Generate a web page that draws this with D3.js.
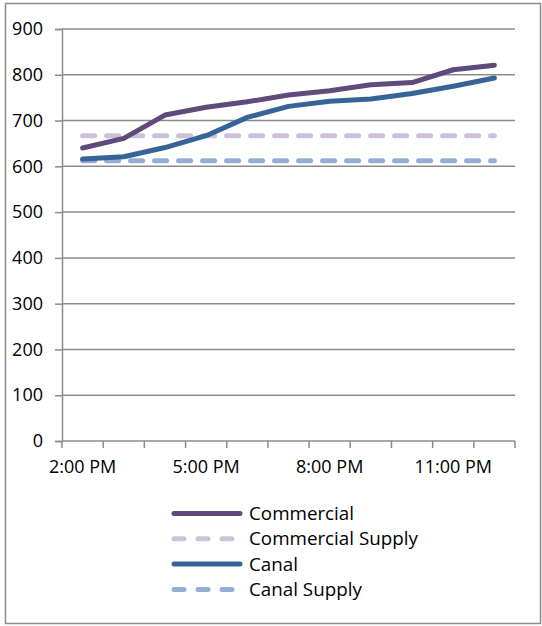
<!DOCTYPE html>
<html>
<head>
<meta charset="utf-8">
<script src="https://cdn.jsdelivr.net/npm/d3@7"></script>
<style>
  html, body { margin: 0; padding: 0; background: #fff; }
  svg { display: block; }
  text { font-family: "Open Sans", "DejaVu Sans", sans-serif; fill: #000; }
</style>
</head>
<body>
<svg id="chart" width="542" height="626"></svg>
<script>
// Hourly categories, evening load versus supply
const hours = ["2:00 PM", "3:00 PM", "4:00 PM", "5:00 PM", "6:00 PM", "7:00 PM",
               "8:00 PM", "9:00 PM", "10:00 PM", "11:00 PM", "12:00 AM"];
const shownHours = ["2:00 PM", "5:00 PM", "8:00 PM", "11:00 PM"];
const commercial = [640, 661, 712, 729, 741, 756, 765, 778, 783, 811, 821];
const commercialSupply = [667, 667, 667, 667, 667, 667, 667, 667, 667, 667, 667];
const canal = [616, 621, 641, 667, 707, 731, 742, 747, 759, 775, 793];
const canalSupply = [612, 612, 612, 612, 612, 612, 612, 612, 612, 612, 612];
const yTicks = [0, 100, 200, 300, 400, 500, 600, 700, 800, 900];

const seriesList = [
  { name: "Commercial", values: commercial, color: "#604a7b", dash: null },
  { name: "Commercial Supply", values: commercialSupply, color: "#ccc1da", dash: "12,12" },
  { name: "Canal", values: canal, color: "#376497", dash: null },
  { name: "Canal Supply", values: canalSupply, color: "#95add3", dash: "12,12" }
];

const svg = d3.select("#chart");
const gridColor = "#8c8c8c";
const axisFont = 18;
const legendFont = 18.8;

// outer frame
svg.append("rect")
  .attr("x", 5.5).attr("y", 3.5)
  .attr("width", 535).attr("height", 620)
  .attr("fill", "none")
  .attr("stroke", gridColor).attr("stroke-width", 1.5);

const plot = { left: 62, right: 515, top: 29, bottom: 441 };

const x = d3.scaleBand().domain(hours).range([plot.left, plot.right]).padding(0);
const y = d3.scaleLinear().domain([0, 900]).range([plot.bottom, plot.top]);
const cx = d => x(d) + x.bandwidth() / 2;

// horizontal gridlines
svg.append("g")
  .selectAll("line")
  .data(yTicks.filter(v => v > 0))
  .join("line")
  .attr("x1", plot.left).attr("x2", plot.right)
  .attr("y1", d => y(d)).attr("y2", d => y(d))
  .attr("stroke", gridColor).attr("stroke-width", 1.5);

// value axis
const yAxis = svg.append("g")
  .attr("transform", `translate(${plot.left},0)`)
  .call(d3.axisLeft(y).tickValues(yTicks).tickSize(7).tickPadding(12).tickFormat(d3.format("d")));
yAxis.select(".domain").attr("stroke", gridColor).attr("stroke-width", 1.5);
yAxis.selectAll(".tick line").attr("stroke", gridColor).attr("stroke-width", 1.5);
yAxis.selectAll("text").attr("font-size", axisFont).style("font-family", "'Open Sans', sans-serif").attr("fill", "#000");

// category axis: labels at band centres, ticks on band boundaries
const xAxis = svg.append("g")
  .attr("transform", `translate(0,${plot.bottom})`)
  .call(d3.axisBottom(x).tickValues(shownHours).tickSize(0).tickPadding(19));
xAxis.select(".domain").remove();
xAxis.selectAll("text").attr("font-size", axisFont).style("font-family", "'Open Sans', sans-serif").attr("fill", "#000");

const boundaries = hours.map(h => x(h)).concat([plot.right]);
svg.append("g")
  .selectAll("line")
  .data(boundaries)
  .join("line")
  .attr("x1", d => d).attr("x2", d => d)
  .attr("y1", plot.bottom).attr("y2", plot.bottom + 7)
  .attr("stroke", gridColor).attr("stroke-width", 1.5);
svg.append("line")
  .attr("x1", plot.left).attr("x2", plot.right)
  .attr("y1", plot.bottom).attr("y2", plot.bottom)
  .attr("stroke", gridColor).attr("stroke-width", 1.5);

// series lines (supply lines first so actuals sit on top)
const line = d3.line().x((d, i) => cx(hours[i])).y(d => y(d));
const drawOrder = [seriesList[3], seriesList[1], seriesList[2], seriesList[0]];
svg.append("g")
  .selectAll("path")
  .data(drawOrder)
  .join("path")
  .attr("d", s => line(s.values))
  .attr("fill", "none")
  .attr("stroke", s => s.color)
  .attr("stroke-width", 5)
  .attr("stroke-linecap", "round")
  .attr("stroke-linejoin", "round")
  .attr("stroke-dasharray", s => s.dash);

// legend
const legend = svg.append("g");
const legendRows = legend.selectAll("g")
  .data(seriesList)
  .join("g")
  .attr("transform", (d, i) => `translate(174,${513.5 + i * 25.3})`);
legendRows.append("line")
  .attr("x1", 0).attr("x2", 66)
  .attr("stroke", d => d.color)
  .attr("stroke-width", 5)
  .attr("stroke-linecap", "round")
  .attr("stroke-dasharray", d => d.dash ? "10,14" : null);
legendRows.append("text")
  .attr("x", 75).attr("dy", "0.35em")
  .attr("font-size", legendFont)
  .text(d => d.name);
</script>
</body>
</html>
